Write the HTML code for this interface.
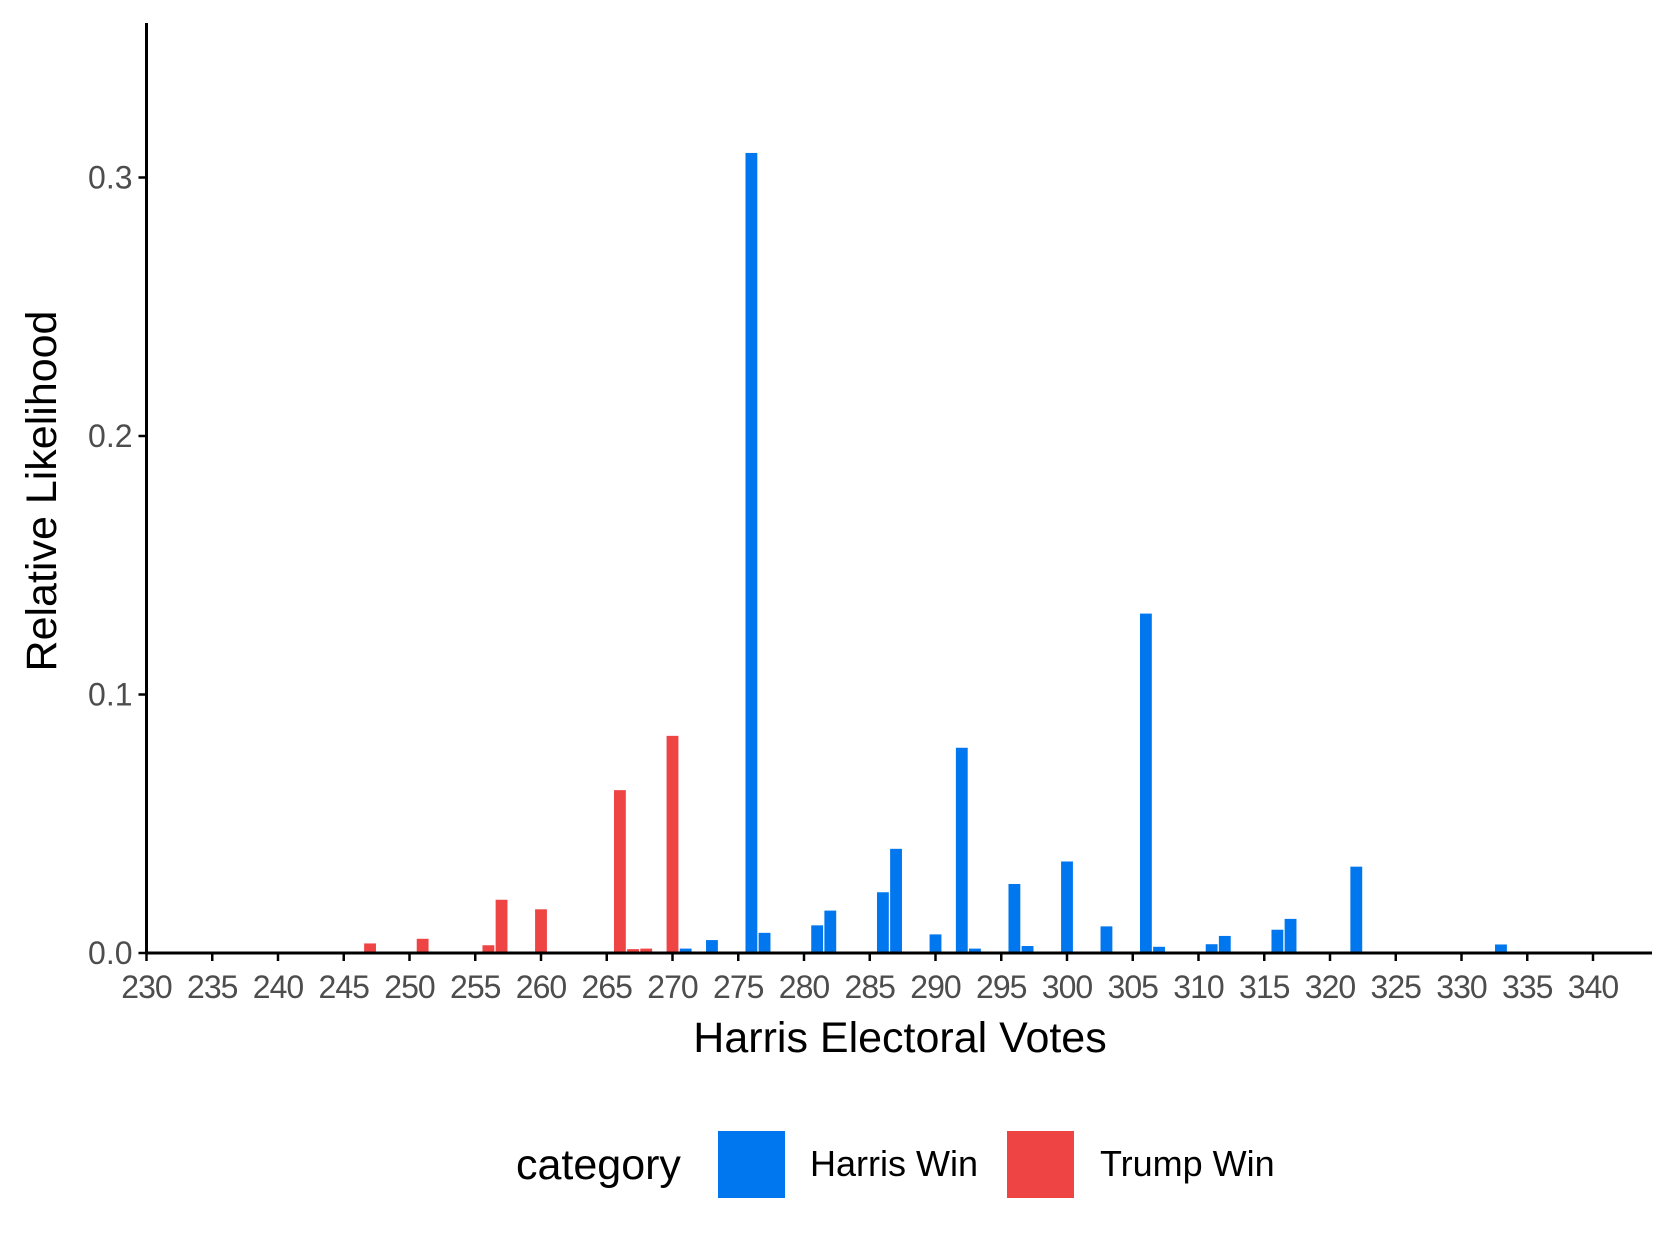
<!DOCTYPE html>
<html><head><meta charset="utf-8"><style>
body{margin:0;background:#fff;}
svg{display:block;font-family:"Liberation Sans",Arial,sans-serif;}
</style></head><body>
<svg id="chart" width="1668" height="1246" viewBox="0 0 1668 1246" xmlns="http://www.w3.org/2000/svg">
<rect width="1668" height="1246" fill="#fff"/>
<g id="bars"></g>
<g id="axes"></g>
<text x="900" y="1052" font-size="43" text-anchor="middle" fill="#000">Harris Electoral Votes</text>
<text transform="translate(56,491) rotate(-90)" font-size="43" text-anchor="middle" fill="#000">Relative Likelihood</text>
<g>
<text x="516" y="1179" font-size="43" fill="#000">category</text>
<rect x="718" y="1131" width="67" height="67" fill="#0077EE"/>
<text x="810" y="1176" font-size="36" fill="#000">Harris Win</text>
<rect x="1007" y="1131" width="67" height="67" fill="#EF4444"/>
<text x="1100" y="1176" font-size="36" fill="#000">Trump Win</text>
</g>
</svg>
<script>
const trumpVotes = [241,247,250,251,256,257,260,263,266,267,268,270];
const trumpValues = [0.0005,0.0037,0.0005,0.0055,0.003,0.0206,0.0169,0.0005,0.063,0.0015,0.0017,0.084];
const harrisVotes = [271,272,273,276,277,281,282,286,287,290,292,293,296,297,298,300,303,306,307,311,312,316,317,322,327,333];
const harrisValues = [0.0017,0.0003,0.005,0.3095,0.0078,0.0107,0.0164,0.0235,0.0403,0.0072,0.0794,0.0017,0.0267,0.0027,0.0005,0.0354,0.0103,0.1313,0.0024,0.0034,0.0066,0.009,0.0132,0.0334,0.0004,0.0033];
const xTicks = [230,235,240,245,250,255,260,265,270,275,280,285,290,295,300,305,310,315,320,325,330,335,340];
const yTicks = [0,0.1,0.2,0.3];
const yTickLabels = ["0.0","0.1","0.2","0.3"];

const NS="http://www.w3.org/2000/svg";
const x0=146.5, pxPerVote=13.15, baseY=953, pxPerUnit=2585;
const xs=v=>x0+(v-230)*pxPerVote;
const ys=v=>baseY-v*pxPerUnit;
const barW=pxPerVote*0.9;
const bars=document.getElementById('bars');
function drawBars(votes,vals,color,name){
  votes.forEach((v,i)=>{
    const r=document.createElementNS(NS,'rect');
    r.setAttribute('x',xs(v)-barW/2);
    r.setAttribute('y',ys(vals[i]));
    r.setAttribute('width',barW);
    r.setAttribute('height',Math.max(0,baseY-ys(vals[i])));
    r.setAttribute('fill',color);
    
    
    bars.appendChild(r);
  });
}
drawBars(trumpVotes,trumpValues,'#EF4444','trump');
drawBars(harrisVotes,harrisValues,'#0077EE','harris');
const axes=document.getElementById('axes');
function line(x1,y1,x2,y2,w,name){
  const l=document.createElementNS(NS,'line');
  l.setAttribute('x1',x1);l.setAttribute('y1',y1);l.setAttribute('x2',x2);l.setAttribute('y2',y2);
  l.setAttribute('stroke','#000');l.setAttribute('stroke-width',w);
  
  
  axes.appendChild(l);
}
line(x0,23,x0,baseY+1.5,3,'y-axis-line');
line(x0-1.5,baseY,1652,baseY,3,'x-axis-line');
xTicks.forEach(t=>{
  line(xs(t),baseY,xs(t),baseY+8,2.5,'x-tick');
  const tx=document.createElementNS(NS,'text');
  tx.setAttribute('x',xs(t));tx.setAttribute('y',baseY+45);
  tx.setAttribute('font-size','32');tx.setAttribute('text-anchor','middle');tx.setAttribute('fill','#4d4d4d');
  tx.setAttribute('letter-spacing','-1');
  tx.textContent=t;
  
  
  axes.appendChild(tx);
});
yTicks.forEach((t,i)=>{
  line(x0-8,ys(t),x0,ys(t),2.5,'y-tick');
  const tx=document.createElementNS(NS,'text');
  tx.setAttribute('x',x0-14);tx.setAttribute('y',ys(t)+11);
  tx.setAttribute('font-size','32');tx.setAttribute('text-anchor','end');tx.setAttribute('fill','#4d4d4d');
  tx.textContent=yTickLabels[i];
  
  
  axes.appendChild(tx);
});
</script>
</body></html>
